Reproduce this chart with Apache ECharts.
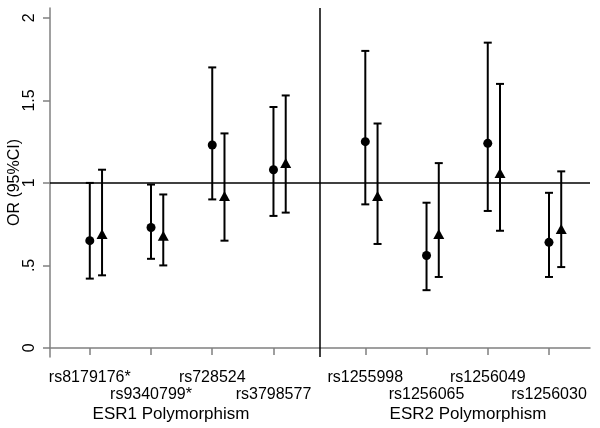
<!DOCTYPE html>
<html>
<head>
<meta charset="utf-8">
<script src="https://cdn.jsdelivr.net/npm/echarts@6/dist/echarts.min.js"></script>
<style>
  html, body { margin: 0; padding: 0; background: #fff; }
  #main { width: 600px; height: 428px; }
</style>
</head>
<body>
<div id="main"></div>
<script>
// SNPs and their x positions (gap between ESR1 and ESR2 groups)
const snps = ['rs8179176*', 'rs9340799*', 'rs728524', 'rs3798577', 'rs1255998', 'rs1256065', 'rs1256049', 'rs1256030']
const xPos = [1, 2, 3, 4, 5.5, 6.5, 7.5, 8.5]

// circle estimates (OR, lower, upper)
const orA = [0.65, 0.73, 1.23, 1.08, 1.25, 0.56, 1.24, 0.64]
const loA = [0.42, 0.54, 0.90, 0.80, 0.87, 0.35, 0.83, 0.43]
const hiA = [1.00, 0.99, 1.70, 1.46, 1.80, 0.88, 1.85, 0.94]

// triangle estimates
const orB = [0.69, 0.68, 0.92, 1.12, 0.92, 0.69, 1.06, 0.72]
const loB = [0.44, 0.50, 0.65, 0.82, 0.63, 0.43, 0.71, 0.49]
const hiB = [1.08, 0.93, 1.30, 1.53, 1.36, 1.12, 1.60, 1.07]

const yTicks = [0, 0.5, 1, 1.5, 2]
const yTickLabels = ['0', '.5', '1', '1.5', '2']
const groupNames = ['ESR1 Polymorphism', 'ESR2 Polymorphism']
const refY = 1
const dividerX = 4.75
const shiftB = 0.2

// labels are staggered on two rows
const row1 = xPos.filter((x, i) => i % 2 === 0)
const row2 = xPos.filter((x, i) => i % 2 === 1)

const font = '"Liberation Sans", Arial, sans-serif'
const myChart = echarts.init(document.getElementById('main'))

const errA = xPos.map((x, i) => [x, loA[i], hiA[i]])
const errB = xPos.map((x, i) => [x + shiftB, loB[i], hiB[i]])

function errBar(params, api) {
    const x = api.value(0)
    const pLo = api.coord([x, api.value(1)])
    const pHi = api.coord([x, api.value(2)])
    const w = 4
    const st = { stroke: '#000', lineWidth: 2 }
    return {
        type: 'group',
        children: [
            { type: 'line', shape: { x1: pLo[0], y1: pLo[1], x2: pHi[0], y2: pHi[1] }, style: st },
            { type: 'line', shape: { x1: pLo[0] - w, y1: pLo[1], x2: pLo[0] + w, y2: pLo[1] }, style: st },
            { type: 'line', shape: { x1: pHi[0] - w, y1: pHi[1], x2: pHi[0] + w, y2: pHi[1] }, style: st },
        ],
    }
}

const snpLabel = (v) => {
    const i = xPos.indexOf(v)
    return i < 0 ? '' : snps[i]
}

const labelBase = {
    hideOverlap: false,
    showMinLabel: true,
    showMaxLabel: true,
    color: '#000',
    fontFamily: font,
    fontSize: 16,
    formatter: snpLabel,
}

const option = {
    animation: false,
    grid: { left: 50, right: 10, top: 8, bottom: 71, outerBoundsMode: 'none', containLabel: false },
    xAxis: [
        {
            type: 'value',
            min: 0.35,
            max: 9.17,
            splitLine: { show: false },
            axisLine: { lineStyle: { color: '#808080', width: 1.5 } },
            axisTick: { customValues: xPos, length: 7, lineStyle: { color: '#808080', width: 1.5 } },
            axisLabel: Object.assign({}, labelBase, { customValues: row1, margin: 13 }),
        },
        {
            type: 'value',
            position: 'bottom',
            min: 0.35,
            max: 9.17,
            splitLine: { show: false },
            axisLine: { show: false },
            axisTick: { show: false },
            axisLabel: Object.assign({}, labelBase, { customValues: row2, margin: 30 }),
        },
    ],
    yAxis: {
        type: 'value',
        min: -0.055,
        max: 2.06,
        name: 'OR (95%CI)',
        nameLocation: 'middle',
        nameRotate: 90,
        nameGap: 27,
        nameMoveOverlap: false,
        nameTextStyle: { color: '#000', fontFamily: font, fontSize: 16 },
        splitLine: { show: false },
        axisLine: { show: true, lineStyle: { color: '#808080', width: 1.5 } },
        axisTick: { customValues: yTicks, length: 7, lineStyle: { color: '#808080', width: 1.5 } },
        axisLabel: {
            customValues: yTicks,
            showMinLabel: true,
            showMaxLabel: true,
            rotate: 90,
            margin: 12,
            color: '#000',
            fontFamily: font,
            fontSize: 16,
            formatter: (v) => {
                const i = yTicks.indexOf(v)
                return i < 0 ? '' : yTickLabels[i]
            },
        },
    },
    graphic: [
        { type: 'text', x: 171, y: 406, style: { text: groupNames[0], fill: '#000', font: '17px ' + font, align: 'center', verticalAlign: 'top' } },
        { type: 'text', x: 468, y: 406, style: { text: groupNames[1], fill: '#000', font: '17px ' + font, align: 'center', verticalAlign: 'top' } },
    ],
    series: [
        {
            type: 'custom',
            renderItem: errBar,
            data: errA,
            encode: { x: 0, y: [1, 2] },
            z: 2,
            markLine: {
                silent: true,
                symbol: 'none',
                label: { show: false },
                lineStyle: { color: '#000', width: 1.5, type: 'solid' },
                data: [{ yAxis: refY }, { xAxis: dividerX }],
            },
        },
        {
            type: 'custom',
            renderItem: errBar,
            data: errB,
            encode: { x: 0, y: [1, 2] },
            z: 2,
        },
        {
            type: 'scatter',
            symbol: 'circle',
            symbolSize: 9,
            itemStyle: { color: '#000', opacity: 1 },
            data: xPos.map((x, i) => [x, orA[i]]),
            z: 3,
        },
        {
            type: 'scatter',
            symbol: 'triangle',
            symbolSize: [11, 10],
            itemStyle: { color: '#000', opacity: 1 },
            data: xPos.map((x, i) => [x + shiftB, orB[i]]),
            z: 3,
        },
    ],
}

myChart.setOption(option)
</script>
</body>
</html>
